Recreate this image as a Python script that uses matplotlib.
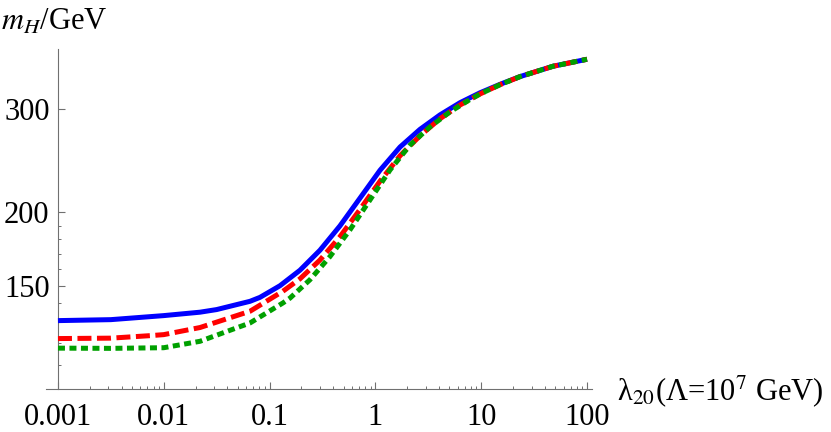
import numpy as np
import matplotlib
matplotlib.use("Agg")
import matplotlib.pyplot as plt
from matplotlib.ticker import FixedLocator, NullFormatter

plt.rcParams['font.family'] = ['Liberation Serif', 'DejaVu Serif']
plt.rcParams['mathtext.fontset'] = 'stix'

# values (lambda_20, m_H in GeV)
x_blue = [0.001, 0.00316, 0.01, 0.022, 0.0316, 0.0653, 0.0811, 0.1253, 0.1936, 0.299,
          0.462, 0.714, 1.105, 1.709, 2.64, 4.08, 6.31, 9.75, 15.06, 23.3, 47.7, 100.0]
y_blue = [130.8, 131.3, 133.4, 135.2, 136.6, 141.1, 143.3, 150.0, 159.4, 172.4,
          189.7, 211.5, 236.0, 258.6, 277.2, 293.4, 307.8, 320.0, 330.8, 341.0, 355.1, 365.0]

x_red = [0.001, 0.00316, 0.00741, 0.01, 0.022, 0.0653, 0.1337, 0.1936, 0.299, 0.462,
         0.714, 1.105, 1.709, 2.64, 4.08, 6.31, 9.75, 15.06, 23.3, 47.7, 100.0]
y_red = [121.9, 122.1, 123.3, 123.8, 127.3, 135.7, 146.8, 154.1, 165.9, 181.8,
         202.3, 226.1, 249.9, 270.3, 289.0, 305.0, 318.5, 330.3, 341.0, 355.1, 365.0]

x_green = [0.001, 0.00316, 0.01, 0.022, 0.0653, 0.1337, 0.156, 0.241, 0.372, 0.575,
           0.889, 1.374, 2.124, 3.28, 5.07, 7.84, 9.75, 15.06, 23.3, 47.7, 100.0]
y_green = [117.4, 117.3, 117.6, 120.6, 129.6, 140.2, 142.9, 153.6, 168.2, 186.8,
           210.1, 236.3, 260.6, 279.9, 296.9, 311.7, 318.5, 330.3, 341.0, 355.1, 365.0]

xticks = [0.001, 0.01, 0.1, 1, 10, 100]
xtick_labels = ['0.001', '0.01', '0.1', '1', '10', '100']
yticks = [150, 200, 300]
yminor = [110, 120, 130, 140, 160, 170, 180, 190]

W, H = 831, 432
fig = plt.figure(figsize=(W/100, H/100), dpi=100)
ax = fig.add_axes([46/W, (H-389)/H, (592-46)/W, (389-49)/H])

lw = 3.6
ax.plot(x_blue, y_blue, color='#0000ff', lw=lw, solid_capstyle='butt',
        solid_joinstyle='round', zorder=3)
ax.plot(x_red, y_red, color='#ff0000', lw=lw, ls=(0, (2.8, 1.1)),
        dash_capstyle='butt', dash_joinstyle='round', zorder=4)
ax.plot(x_green, y_green, color='#00a000', lw=lw, ls=(0, (1.4, 0.9)),
        dash_capstyle='butt', dash_joinstyle='round', zorder=5)

ax.set_xscale('log')
ax.set_yscale('log')
ax.set_xlim(10**-3.113, 10**2.047)
ax.set_ylim(100, 380)

for s in ['top', 'right']:
    ax.spines[s].set_visible(False)
ax.spines['left'].set_position(('data', 0.001))
for s in ['left', 'bottom']:
    ax.spines[s].set_color('#707070')
    ax.spines[s].set_linewidth(0.8)

ax.xaxis.set_major_locator(FixedLocator(xticks))
ax.set_xticklabels(xtick_labels)
xminor = [m * 10.0**e for e in range(-3, 2) for m in range(2, 10)]
ax.xaxis.set_minor_locator(FixedLocator(xminor))
ax.xaxis.set_minor_formatter(NullFormatter())

ax.yaxis.set_major_locator(FixedLocator(yticks))
ax.set_yticklabels([str(v) for v in yticks])
ax.yaxis.set_minor_locator(FixedLocator(yminor))
ax.yaxis.set_minor_formatter(NullFormatter())

ax.tick_params(which='major', direction='in', length=5, width=0.8, color='#707070',
               labelsize=22, labelcolor='black')
ax.tick_params(which='minor', direction='in', length=2.5, width=0.7, color='#707070')
ax.tick_params(axis='x', which='major', pad=10)
ax.tick_params(axis='y', which='major', pad=6)

fig.text(1/W, 1 - 30/H, r'$m_H$/GeV', fontsize=22, ha='left', va='baseline')
fig.text(617/W, 1 - 391/H, r'λ$_{20}$(Λ=10$^{7}$ GeV)', fontsize=22, ha='left', va='center')

fig.savefig('out.png', dpi=100)
